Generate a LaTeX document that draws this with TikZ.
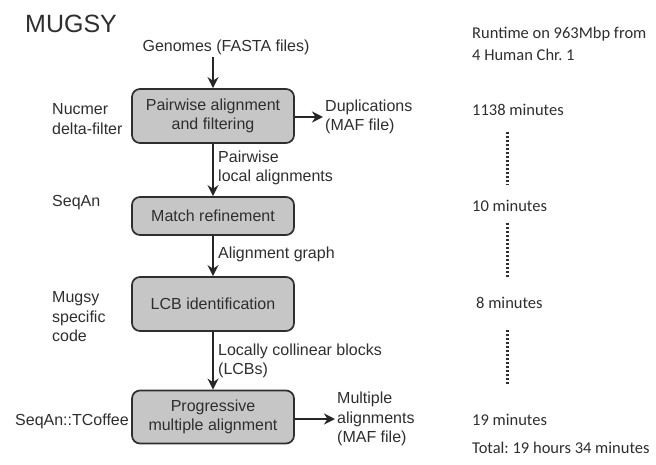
\documentclass[tikz,border=0pt]{standalone}
\usepackage{fontspec}
\setmainfont{Liberation Sans}
\newfontfamily\runfont{Carlito}
\usetikzlibrary{arrows.meta}
\frenchspacing
\definecolor{boxfill}{HTML}{C6C6C6}
\definecolor{inkgray}{HTML}{2E2E2E}
\tikzset{
    stage/.style={draw=inkgray, line width=1.7pt, fill=boxfill, rounded corners=8pt,
        minimum width=162pt, align=center, text=inkgray, font=\fontsize{16}{19.5}\selectfont},
    note/.style={anchor=west, inner sep=0pt, align=left, text=inkgray,
        font=\fontsize{16}{19.5}\selectfont},
    runtime/.style={anchor=west, inner sep=0pt, align=left, text=inkgray,
        font=\runfont\fontsize{16.5}{22}\selectfont},
    flow/.style={draw=black!85, line width=1.8pt, -{Stealth[length=11pt,width=11pt,inset=3.5pt]}},
    timeline/.style={draw=inkgray, line width=3pt, dash pattern=on 2pt off 2pt}
}
\begin{document}
\begin{tikzpicture}[x=1pt,y=-1pt]
\useasboundingbox (0,0) rectangle (656,465);

% Draw the pipeline
\node[note, font=\fontsize{25}{28}\selectfont] (title) at (25,24) {MUGSY};
\node[text=inkgray, inner sep=2pt, font=\fontsize{16}{19.5}\selectfont] (genomes) at (226,47) {Genomes (FASTA files)};

\node[stage, minimum height=54pt] (pairwise) at (213,116) {Pairwise alignment\\and filtering};
\node[stage, minimum height=38pt] (refine) at (213,216) {Match refinement};
\node[stage, minimum height=54pt] (lcb) at (213,304) {LCB identification};
\node[stage, minimum height=53pt] (progressive) at (213,417) {Progressive\\multiple alignment};

\draw[flow] (genomes.south -| pairwise.north) -- (pairwise.north);
\draw[flow] (pairwise) -- (refine);
\draw[flow] (refine) -- (lcb);
\draw[flow] (lcb) -- (progressive);

\node[note] (pairlabel) at (218,168) {Pairwise\\local alignments};
\node[note] (graphlabel) at (218,254) {Alignment graph};
\node[note] (lcblabel) at (218,361) {Locally collinear blocks\\(LCBs)};

% Draw the outputs
\node[note] (dupl) at (325,117) {Duplications\\(MAF file)};
\node[note] (multi) at (337,419) {Multiple\\alignments\\(MAF file)};
\coordinate (duplend) at (323,117);
\coordinate (multiend) at (335,419);
\draw[flow] (pairwise.east |- duplend) -- (duplend);
\draw[flow] (progressive.east |- multiend) -- (multiend);

% Draw the tools
\node[note] (nucmer) at (52,119) {Nucmer\\delta-filter};
\node[note] (seqan) at (52,203) {SeqAn};
\node[note] (mugsycode) at (52,317) {Mugsy\\specific\\code};
\node[note] (tcoffee) at (15,421) {SeqAn::TCoffee};

% Draw the runtimes
\begin{scope}
\node[runtime] (runhead) at (472,44) {Runtime on 963Mbp from\\4 Human Chr. 1};
\node[runtime] (t1138) at (472,110) {1138 minutes};
\node[runtime] (t10) at (472,206) {10 minutes};
\node[runtime] (t8) at (476,303) {8 minutes};
\node[runtime] (t19) at (472,420) {19 minutes};
\node[runtime] (total) at (472,448) {Total: 19 hours 34 minutes};

\coordinate (d1a) at (507,132); \coordinate (d1b) at (507,185);
\coordinate (d2a) at (507,223); \coordinate (d2b) at (507,277);
\coordinate (d3a) at (507,330); \coordinate (d3b) at (507,384);
\draw[timeline] (d1a) -- (d1b);
\draw[timeline] (d2a) -- (d2b);
\draw[timeline] (d3a) -- (d3b);
\end{scope}

\end{tikzpicture}
\end{document}
